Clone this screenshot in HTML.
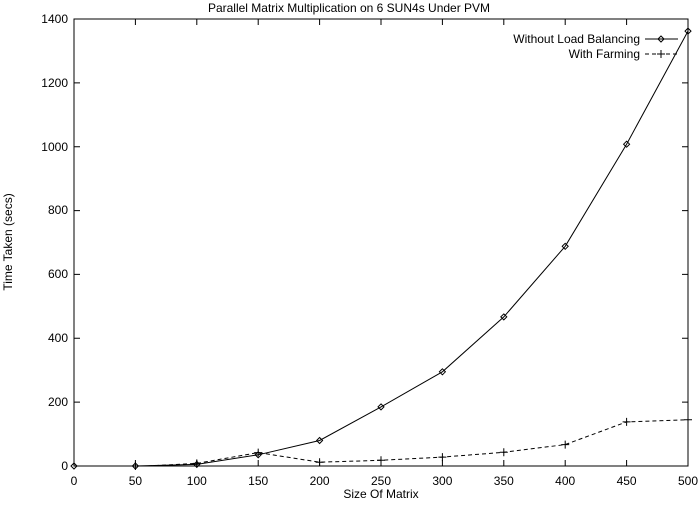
<!DOCTYPE html>
<html><head><style>body{margin:0;background:#fff}</style></head><body>
<svg width="699" height="500" xmlns="http://www.w3.org/2000/svg" font-family="Liberation Sans, sans-serif" font-size="12">
<rect x="0" y="0" width="699" height="500" fill="#fff"/>
<text x="349" y="12" text-anchor="middle">Parallel Matrix Multiplication on 6 SUN4s Under PVM</text>
<rect x="74" y="19" width="614" height="447" fill="none" stroke="#000" stroke-width="1"/>
<g stroke="#000">
<path d="M74 466h6M74 402.1h6M74 338.3h6M74 274.4h6M74 210.6h6M74 146.7h6M74 82.9h6M74 19h6
M688 466h-6M688 402.1h-6M688 338.3h-6M688 274.4h-6M688 210.6h-6M688 146.7h-6M688 82.9h-6
M135.4 466v-6M196.8 466v-6M258.2 466v-6M319.6 466v-6M381 466v-6M442.4 466v-6M503.8 466v-6M565.2 466v-6M626.6 466v-6
M135.4 19v6M196.8 19v6M258.2 19v6M319.6 19v6M381 19v6M442.4 19v6M503.8 19v6M565.2 19v6M626.6 19v6"/>
</g>
<g text-anchor="end">
<text x="68" y="470">0</text><text x="68" y="406">200</text><text x="68" y="342">400</text><text x="68" y="278">600</text><text x="68" y="214">800</text><text x="68" y="151">1000</text><text x="68" y="87">1200</text><text x="68" y="23">1400</text>
</g>
<g text-anchor="middle">
<text x="74" y="485">0</text><text x="135.4" y="485">50</text><text x="196.8" y="485">100</text><text x="258.2" y="485">150</text><text x="319.6" y="485">200</text><text x="381" y="485">250</text><text x="442.4" y="485">300</text><text x="503.8" y="485">350</text><text x="565.2" y="485">400</text><text x="626.6" y="485">450</text><text x="688" y="485">500</text>
<text x="381" y="498">Size Of Matrix</text>
</g>
<text transform="translate(12,242) rotate(-90)" text-anchor="middle">Time Taken (secs)</text>
<polyline fill="none" stroke="#000" points="74,466 135.4,466 196.8,464.4 258.2,454.8 319.6,440.5 381,406.9 442.4,371.8 503.8,316.9 565.2,246.3 626.6,144.2 688,31.1"/>
<g fill="none" stroke="#000">
<path d="M74 463l3 3-3 3-3-3zM135.4 463l3 3-3 3-3-3zM196.8 461.4l3 3-3 3-3-3zM258.2 451.8l3 3-3 3-3-3zM319.6 437.5l3 3-3 3-3-3zM381 403.9l3 3-3 3-3-3zM442.4 368.8l3 3-3 3-3-3zM503.8 313.9l3 3-3 3-3-3zM565.2 243.3l3 3-3 3-3-3zM626.6 141.2l3 3-3 3-3-3zM688 28.1l3 3-3 3-3-3z"/>
</g>
<polyline fill="none" stroke="#000" stroke-dasharray="4,3" points="148,466 196.8,463.4 258.2,452.6 319.6,462.2 381,460.3 442.4,457.1 503.8,452.3 565.2,444.6 626.6,421.9 688,419.7"/>
<g stroke="#000">
<path d="M135.4 462v8M131.4 466h8M196.8 459.4v8M192.8 463.4h8M258.2 448.6v8M254.2 452.6h8M319.6 458.2v8M315.6 462.2h8M381 456.3v8M377 460.3h8M442.4 453.1v8M438.4 457.1h8M503.8 448.3v8M499.8 452.3h8M565.2 440.6v8M561.2 444.6h8M626.6 417.9v8M622.6 421.9h8M688 415.7v8M684 419.7h8"/>
</g>
<g text-anchor="end">
<text x="640" y="43">Without Load Balancing</text>
<text x="640" y="58">With Farming</text>
</g>
<path d="M645 39h33" stroke="#000"/>
<path d="M661 36l3 3-3 3-3-3z" fill="none" stroke="#000"/>
<path d="M645 54h33" stroke="#000" stroke-dasharray="4,3"/>
<path d="M661 50v8M657 54h8" stroke="#000"/>
</svg>
</body></html>
